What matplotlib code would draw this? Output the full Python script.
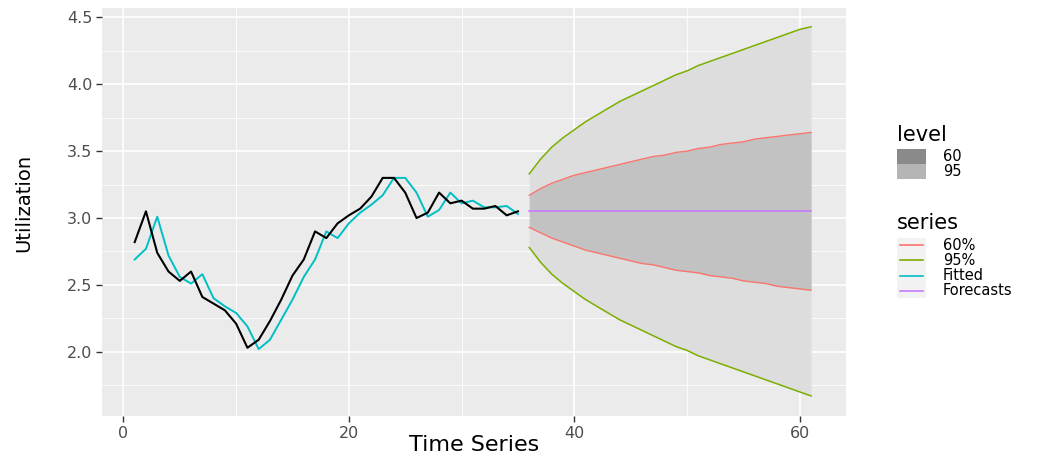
import matplotlib
matplotlib.use('Agg')
import matplotlib.pyplot as plt
from matplotlib.patches import Rectangle
from matplotlib.lines import Line2D

# observed series and fitted values (t = 1..35)
t_obs = list(range(1, 36))
observed = [2.82, 3.05, 2.74, 2.60, 2.53, 2.60, 2.41, 2.36, 2.31, 2.21,
            2.03, 2.09, 2.23, 2.39, 2.57, 2.69, 2.90, 2.85, 2.96, 3.02,
            3.07, 3.16, 3.30, 3.30, 3.19, 3.00, 3.04, 3.19, 3.11, 3.13,
            3.07, 3.07, 3.09, 3.02, 3.05]
fitted = [2.69, 2.77, 3.01, 2.72, 2.56, 2.51, 2.58, 2.40, 2.34, 2.29,
          2.19, 2.02, 2.09, 2.24, 2.39, 2.56, 2.69, 2.90, 2.85, 2.96,
          3.04, 3.10, 3.17, 3.30, 3.30, 3.19, 3.01, 3.06, 3.19, 3.11,
          3.13, 3.08, 3.08, 3.09, 3.03]

# forecasts (t = 36..61)
t_fc = list(range(36, 62))
forecast = [3.05] * 26
upper95 = [3.33, 3.44, 3.53, 3.60, 3.66, 3.72, 3.77, 3.82, 3.87, 3.91,
           3.95, 3.99, 4.03, 4.07, 4.10, 4.14, 4.17, 4.20, 4.23, 4.26,
           4.29, 4.32, 4.35, 4.38, 4.41, 4.43]
lower95 = [2.78, 2.67, 2.58, 2.51, 2.45, 2.39, 2.34, 2.29, 2.24, 2.20,
           2.16, 2.12, 2.08, 2.04, 2.01, 1.97, 1.94, 1.91, 1.88, 1.85,
           1.82, 1.79, 1.76, 1.73, 1.70, 1.67]
upper60 = [3.17, 3.22, 3.26, 3.29, 3.32, 3.34, 3.36, 3.38, 3.40, 3.42,
           3.44, 3.46, 3.47, 3.49, 3.50, 3.52, 3.53, 3.55, 3.56, 3.57,
           3.59, 3.60, 3.61, 3.62, 3.63, 3.64]
lower60 = [2.93, 2.89, 2.85, 2.82, 2.79, 2.76, 2.74, 2.72, 2.70, 2.68,
           2.66, 2.65, 2.63, 2.61, 2.60, 2.59, 2.57, 2.56, 2.55, 2.53,
           2.52, 2.51, 2.49, 2.48, 2.47, 2.46]

W, H = 1063, 457
fig = plt.figure(figsize=(W / 100, H / 100), dpi=100)
ax = fig.add_axes([102 / W, 1 - 416 / H, (846 - 102) / W, (416 - 8) / H])

ax.set_facecolor('#EBEBEB')
for s in ax.spines.values():
    s.set_visible(False)

ax.fill_between(t_fc, lower95, upper95, color='#DDDDDD', lw=0, zorder=2)
ax.fill_between(t_fc, lower60, upper60, color='#C2C2C2', lw=0, zorder=2)

ax.plot(t_obs, observed, color='black', lw=1.5, zorder=4)
ax.plot(t_obs, fitted, color='#00BFC4', lw=1.4, zorder=3)
ax.plot(t_fc, upper60, color='#F8766D', lw=1.0, zorder=3)
ax.plot(t_fc, lower60, color='#F8766D', lw=1.0, zorder=3)
ax.plot(t_fc, upper95, color='#7CAE00', lw=1.1, zorder=3)
ax.plot(t_fc, lower95, color='#7CAE00', lw=1.1, zorder=3)
ax.plot(t_fc, forecast, color='#C77CFF', lw=1.2, zorder=3)

ax.set_xlim(-1.9, 64.1)
ax.set_ylim(1.52, 4.57)
ax.set_xticks([0, 20, 40, 60])
ax.set_xticks([10, 30, 50], minor=True)
ax.set_yticks([2.0, 2.5, 3.0, 3.5, 4.0, 4.5])
ax.set_yticklabels(['2.0', '2.5', '3.0', '3.5', '4.0', '4.5'])
ax.set_yticks([1.75, 2.25, 2.75, 3.25, 3.75, 4.25], minor=True)
ax.set_axisbelow(True)
ax.grid(which='major', color='white', lw=1.2, zorder=1)
ax.grid(which='minor', color='white', lw=0.6, zorder=1)
ax.tick_params(which='major', length=4, width=1, color='#333333',
               labelsize=11.5, labelcolor='#4D4D4D', pad=3)
ax.tick_params(which='minor', length=0)

fig.text(474 / W, 1 - 445 / H, 'Time Series', fontsize=16,
         ha='center', va='center')
fig.text(24 / W, 1 - 203 / H, 'Utilization', fontsize=14, rotation=90,
         ha='center', va='center')

# legend: level
fig.text(897 / W, 1 - 135 / H, 'level', fontsize=15, ha='left', va='center')
level_labels = ['60', '95']
level_colors = ['#8A8A8A', '#B5B5B5']
for i in range(2):
    y0 = 149 + i * 15
    fig.add_artist(Rectangle((897 / W, 1 - (y0 + 15) / H), 29 / W, 15 / H,
                             transform=fig.transFigure, color=level_colors[i], lw=0))
    fig.text(943 / W, 1 - (y0 + 7.5) / H, level_labels[i], fontsize=10.5,
             ha='left', va='center')

# legend: series
fig.text(897 / W, 1 - 223 / H, 'series', fontsize=15, ha='left', va='center')
series_labels = ['60%', '95%', 'Fitted', 'Forecasts']
series_colors = ['#F8766D', '#7CAE00', '#00BFC4', '#C77CFF']
for i in range(4):
    yc = 245 + i * 15.3
    fig.add_artist(Rectangle((897 / W, 1 - (yc + 7.5) / H), 29 / W, 15 / H,
                             transform=fig.transFigure, color='#F2F2F2', lw=0))
    fig.add_artist(Line2D([900 / W, 923 / W], [1 - yc / H, 1 - yc / H],
                          transform=fig.transFigure, color=series_colors[i], lw=1.2))
    fig.text(943 / W, 1 - yc / H, series_labels[i], fontsize=10.5,
             ha='left', va='center')

fig.savefig('out.png', dpi=100)
